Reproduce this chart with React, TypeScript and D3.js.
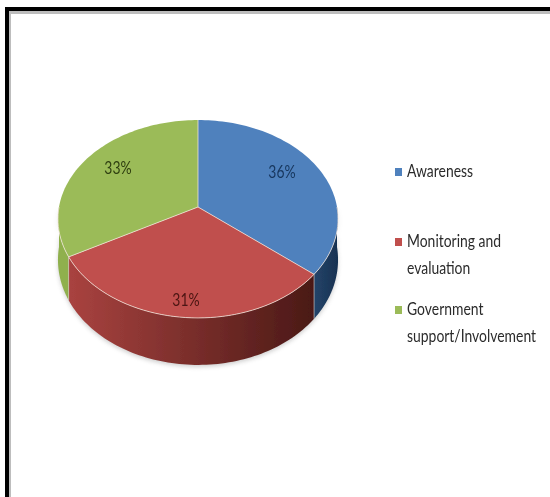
import React from "react";
import * as d3 from "d3";

const categories = ["Awareness", "Monitoring and|evaluation", "Government|support/Involvement"];
const shares = [36, 31, 33];
const topColors = ["#4f81bd", "#c0504d", "#9bbb59"];
const sideLight = ["#26476e", "#a8423f", "#8fb04d"];
const sideDark = ["#17304f", "#4a1916", "#78983f"];
const labelColors = ["#17365d", "#4a1513", "#2f3f12"];
const legendRows = [172, 242, 310];

const W = 550;
const H = 497;
const apexX = 198;
const apexY = 207;
const radiusX = 139;
const foreshorten = 97.5;
const perspective = -0.121;

// Perspective view of the unit circle: the far half of the disc is compressed.
const project = (a: number, r = 1) => {
  const u = Math.sin(a) * r;
  const v = Math.cos(a) * r;
  const front = -v;
  const den = 1 + perspective * front;
  return { x: apexX + (radiusX * u) / den, y: apexY + (foreshorten * front) / den, front };
};
const wallDepth = (front: number) => 40 + 7 * Math.max(front, 0);

const pie = d3.pie<number>().sort(null).value((d) => d);
const arcs = pie(shares);
const outline = d3.line<{ x: number; y: number }>().x((d) => d.x).y((d) => d.y);

const sampleRim = (from: number, to: number) =>
  d3.range(0, 81).map((i) => project(from + ((to - from) * i) / 80));

const topPath = (from: number, to: number) =>
  outline([{ x: apexX, y: apexY }, ...sampleRim(from, to)]) + "Z";

const wallPath = (from: number, to: number) => {
  const rim = sampleRim(from, to);
  const lower = rim.map((p) => ({ x: p.x, y: p.y + wallDepth(p.front) })).reverse();
  return outline([...rim, ...lower]) + "Z";
};

const rimPath = (from: number, to: number) => outline(sampleRim(from, to)) || "";

// Walls visible from the viewer: front half of the cylinder only.
const visibleFrom = Math.PI / 2;
const visibleTo = (3 * Math.PI) / 2;
const wallSpan = (i: number): [number, number] | null => {
  const a = Math.max(arcs[i].startAngle, visibleFrom);
  const b = Math.min(arcs[i].endAngle, visibleTo);
  return b > a ? [a, b] : null;
};

const percentPos = [
  { x: 282, y: 172 },
  { x: 186, y: 300 },
  { x: 118, y: 168 },
];

export default function App() {
  return (
    <svg
      width={W}
      height={H}
      viewBox={`0 0 ${W} ${H}`}
      style={{ position: "absolute", left: 0, top: 0, background: "#fff" }}
    >
      <defs>
        <filter id="soft" x="-10%" y="-10%" width="120%" height="120%">
          <feGaussianBlur stdDeviation="0.5" />
        </filter>
        <filter id="halo" x="-10%" y="-10%" width="120%" height="120%">
          <feGaussianBlur stdDeviation="2" />
        </filter>
        {arcs.map((_, i) => (
          <linearGradient key={i} id={`wall${i}`} gradientUnits="userSpaceOnUse" x1={i === 0 ? 310 : 72} x2={i === 0 ? 340 : 314} y1={0} y2={0}>
            <stop offset="0" stopColor={sideLight[i]} />
            <stop offset="1" stopColor={sideDark[i]} />
          </linearGradient>
        ))}
      </defs>

      <rect x={0} y={0} width={W} height={H} fill="#fff" />

      {/* frame: top and left rules only */}
      <rect x={5} y={10} width={6} height={H - 10} fill="#bdbdbd" />
      <rect x={5} y={10} width={W - 5} height={4} fill="#bdbdbd" />
      <rect x={5} y={7} width={W - 5} height={4} fill="#000" />
      <rect x={5} y={7} width={4} height={H - 7} fill="#000" />

      {/* soft shadow below the cylinder */}
      <g filter="url(#halo)" opacity={0.35}>
        {arcs.map((_, i) => {
          const span = wallSpan(i);
          return span ? <path key={i} d={wallPath(span[0], span[1])} fill="#777" transform="translate(0,2)" /> : null;
        })}
      </g>

      <g filter="url(#soft)">
        {arcs.map((_, i) => {
          const span = wallSpan(i);
          return span ? <path key={i} d={wallPath(span[0], span[1])} fill={`url(#wall${i})`} /> : null;
        })}
        {arcs.map((d, i) => (
          <path key={i} d={topPath(d.startAngle, d.endAngle)} fill={topColors[i]} />
        ))}
        {/* pale seams along the slice edges and the front rim */}
        {arcs.map((d, i) => {
          const p = project(d.startAngle);
          return <line key={i} x1={apexX} y1={apexY} x2={p.x} y2={p.y} stroke="#f3e6dc" strokeWidth={1} opacity={0.75} />;
        })}
        <path d={rimPath(visibleFrom, visibleTo)} fill="none" stroke="#f3e6dc" strokeWidth={1} opacity={0.75} />
        {arcs.slice(1).map((d, i) => {
          const p = project(d.startAngle);
          return d.startAngle > visibleFrom && d.startAngle < visibleTo ? (
            <line key={i} x1={p.x} y1={p.y} x2={p.x} y2={p.y + wallDepth(p.front)} stroke="#d8cfc8" strokeWidth={1} opacity={0.6} />
          ) : null;
        })}
      </g>

      <g filter="url(#soft)" fontFamily="Lato, 'Noto Sans', sans-serif" fontSize={17}>
        {shares.map((s, i) => (
          <text
            key={i}
            transform={`translate(${percentPos[i].x},${percentPos[i].y + 6}) scale(0.82,1)`}
            textAnchor="middle"
            fill={labelColors[i]}
          >
            {s}%
          </text>
        ))}
        {categories.map((c, i) => (
          <g key={c}>
            <rect x={395} y={legendRows[i] - 4} width={7} height={8} fill={topColors[i]} />
            {c.split("|").map((line, j) => (
              <text
                key={j}
                transform={`translate(407,${legendRows[i] + 5 + j * 27}) scale(0.82,1)`}
                fill="#2b2b2b"
              >
                {line}
              </text>
            ))}
          </g>
        ))}
      </g>
    </svg>
  );
}
